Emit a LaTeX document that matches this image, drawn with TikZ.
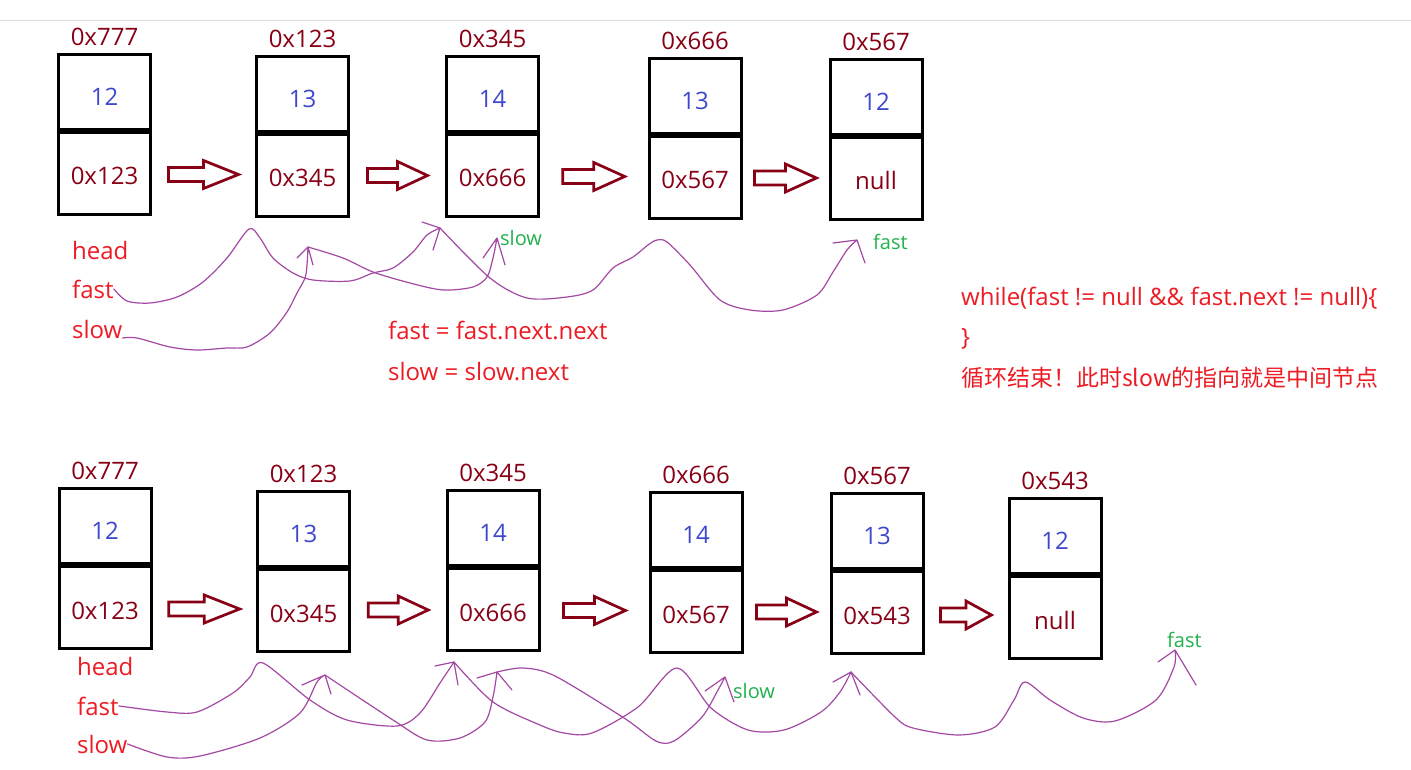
\documentclass[tikz,border=0pt]{standalone}
\usepackage{fontspec}
\setmainfont{Open Sans}
\newfontfamily\cjk{Noto Sans CJK SC}
\usetikzlibrary{positioning,calc}
\definecolor{darkred}{RGB}{136,0,21}
\definecolor{indigo}{RGB}{63,72,204}
\definecolor{paintred}{RGB}{237,28,36}
\definecolor{paintgreen}{RGB}{34,177,76}
\definecolor{paintpurple}{RGB}{163,73,164}
\tikzset{
  cell/.style={draw,line width=3pt,minimum width=92pt,inner sep=0pt,text depth=0pt,font=\fontsize{24}{28}\selectfont},
  valcell/.style={cell,minimum height=75pt,text height=27pt,text=indigo},
  ptrcell/.style={cell,minimum height=82pt,text height=23pt,text=darkred},
  addr/.style={inner sep=0pt,text=darkred,font=\fontsize{24}{28}\selectfont},
  note/.style={inner sep=0pt,anchor=base west,text=paintred,font=\fontsize{24}{28}\selectfont},
  tag/.style={inner sep=0pt,anchor=base west,text=paintgreen,font=\fontsize{20}{24}\selectfont},
  hand/.style={draw=paintpurple,line width=1.2pt,line join=round,line cap=round},
  fatline/.style={draw=darkred,line width=2.7pt},
  pics/fatarrow/.style={code={\draw[fatline] (-#1/2,-7) -- (0,-7) -- (0,-14) -- (#1/2,0) -- (0,14) -- (0,7) -- (-#1/2,7) -- cycle;}}
}
\begin{document}
\begin{tikzpicture}[x=1pt,y=-1pt]
\useasboundingbox[fill=white] (0,0) rectangle (1411,770);
\draw[black!12,line width=1pt] (0,20.5) -- (1411,20.5);

\foreach \n/\x/\y/\a/\v/\p in {t1/104.5/92/0x777/12/0x123, t2/302.5/94/0x123/13/0x345,
    t3/492.5/94/0x345/14/0x666, t4/695/96/0x666/13/0x567, t5/876/97/0x567/12/null,
    b1/105/526/0x777/12/0x123, b2/303.5/529/0x123/13/0x345, b3/493/528/0x345/14/0x666,
    b4/696/530/0x666/14/0x567, b5/877/531/0x567/13/0x543, b6/1055/536/0x543/12/null}{
  \node[valcell] (v\n) at (\x,\y) {\v};
  \node[ptrcell,below=0pt of v\n] (p\n) {\p};
  \node[addr,above=7pt of v\n] (a\n) {\a};
}
\foreach \a/\b/\l in {t1/t2/70, t2/t3/60, t3/t4/62, t4/t5/62,
    b1/b2/71, b2/b3/60, b3/b4/62, b4/b5/60, b5/b6/51}
  \path ($(p\a.east)!0.5!(p\b.west)$) pic{fatarrow=\l};

\node[note] (head1) at (72,259) {head};
\node[note] (fast1) at (72,298) {fast};
\node[note] (slow1) at (72,338) {slow};
\node[note] (step1) at (388,339) {fast = fast.next.next};
\node[note] (step2) at (388,380) {slow = slow.next};
\node[note] (loop1) at (961,305) {while(fast != null \&\& fast.next != null)\{};
\node[note] (loop2) at (961,345) {\}};
\node[note,font=\fontsize{23}{28}\cjk] (loop3) at (961,386) {循环结束！此时slow的指向就是中间节点};
\node[tag] (slowtag1) at (500,246) {slow};
\node[tag] (fasttag1) at (873,250) {fast};

\node[note] (head2) at (77,675) {head};
\node[note] (fast2) at (77,715) {fast};
\node[note] (slow2) at (77,753) {slow};
\node[tag] (slowtag2) at (733,698) {slow};
\node[tag] (fasttag2) at (1167,647) {fast};

\coordinate (ft1) at (440,228);
\coordinate (ft2) at (857,240);
\coordinate (st1) at (308,247);
\coordinate (st2) at (497,238);
\coordinate (fb1) at (454,662);
\coordinate (fb2) at (851,672);
\coordinate (fb3) at (1175,650);
\coordinate (sb1) at (325,675);
\coordinate (sb2) at (497,672);
\coordinate (sb3) at (725,677);

\draw[hand] plot[smooth,tension=0.5] coordinates {(fast1.east) (127,301) (150,303) (177,297) (203,282) (227,258) (249,229)
    (260,238) (273,258) (293,273) (313,280) (350,281) (373,273) (393,268) (413,252) (427,235) (ft1)}
  (422,222) -- (ft1) -- (433,250);
\draw[hand] plot[smooth,tension=0.5] coordinates {(ft1) (490,278) (527,298) (567,297) (593,290) (613,268) (633,257) (648,245)
    (657,240) (667,242) (690,265) (720,300) (750,310) (783,310) (817,295) (833,272) (847,250) (ft2)}
  (833,243) -- (ft2) -- (865,263);
\draw[hand] plot[smooth,tension=0.5] coordinates {(slow1.base east) (137,338) (170,347) (197,350) (227,348) (247,347) (270,333)
    (287,312) (297,293) (305,278) (307,265) (st1)}
  (297,258) -- (st1) -- (313,265);
\draw[hand] plot[smooth,tension=0.5] coordinates {(st1) (343,258) (373,272) (410,283) (443,290) (473,287) (487,277) (493,258) (st2)}
  (483,258) -- (st2) -- (505,265);

\draw[hand] plot[smooth,tension=0.5] coordinates {(fast2.east) (167,712) (197,712) (233,693) (250,677) (263,663) (310,700)
    (347,720) (397,726) (420,713) (440,683) (fb1)}
  (435,666) -- (fb1) -- (458,685);
\draw[hand] plot[smooth,tension=0.5] coordinates {(fb1) (493,702) (540,725) (564,733) (592,733) (638,707) (677,668) (711,708)
    (748,730) (784,730) (821,712) (840,692) (fb2)}
  (833,682) -- (fb2) -- (860,695);
\draw[hand] plot[smooth,tension=0.5] coordinates {(fb2) (895,717) (913,728) (959,735) (995,727) (1014,700) (1025,682) (1050,700)
    (1083,718) (1115,721) (1156,700) (1174,667) (fb3)}
  (1158,662) -- (fb3) -- (1196,685);
\draw[hand] plot[smooth,tension=0.5] coordinates {(slow2.east) (167,757) (200,756) (260,738) (300,713) (317,682) (sb1)}
  (302,685) -- (sb1) -- (331,694);
\draw[hand] plot[smooth,tension=0.5] coordinates {(sb1) (393,720) (427,740) (460,738) (485,722) (493,697) (sb2)}
  (477,678) -- (sb2) -- (512,690);
\draw[hand] plot[smooth,tension=0.5] coordinates {(sb2) (523,668) (555,676) (624,718) (656,741) (674,741) (702,717) (718,690) (sb3)}
  (705,691) -- (sb3) -- (734,702);
\end{tikzpicture}
\end{document}
